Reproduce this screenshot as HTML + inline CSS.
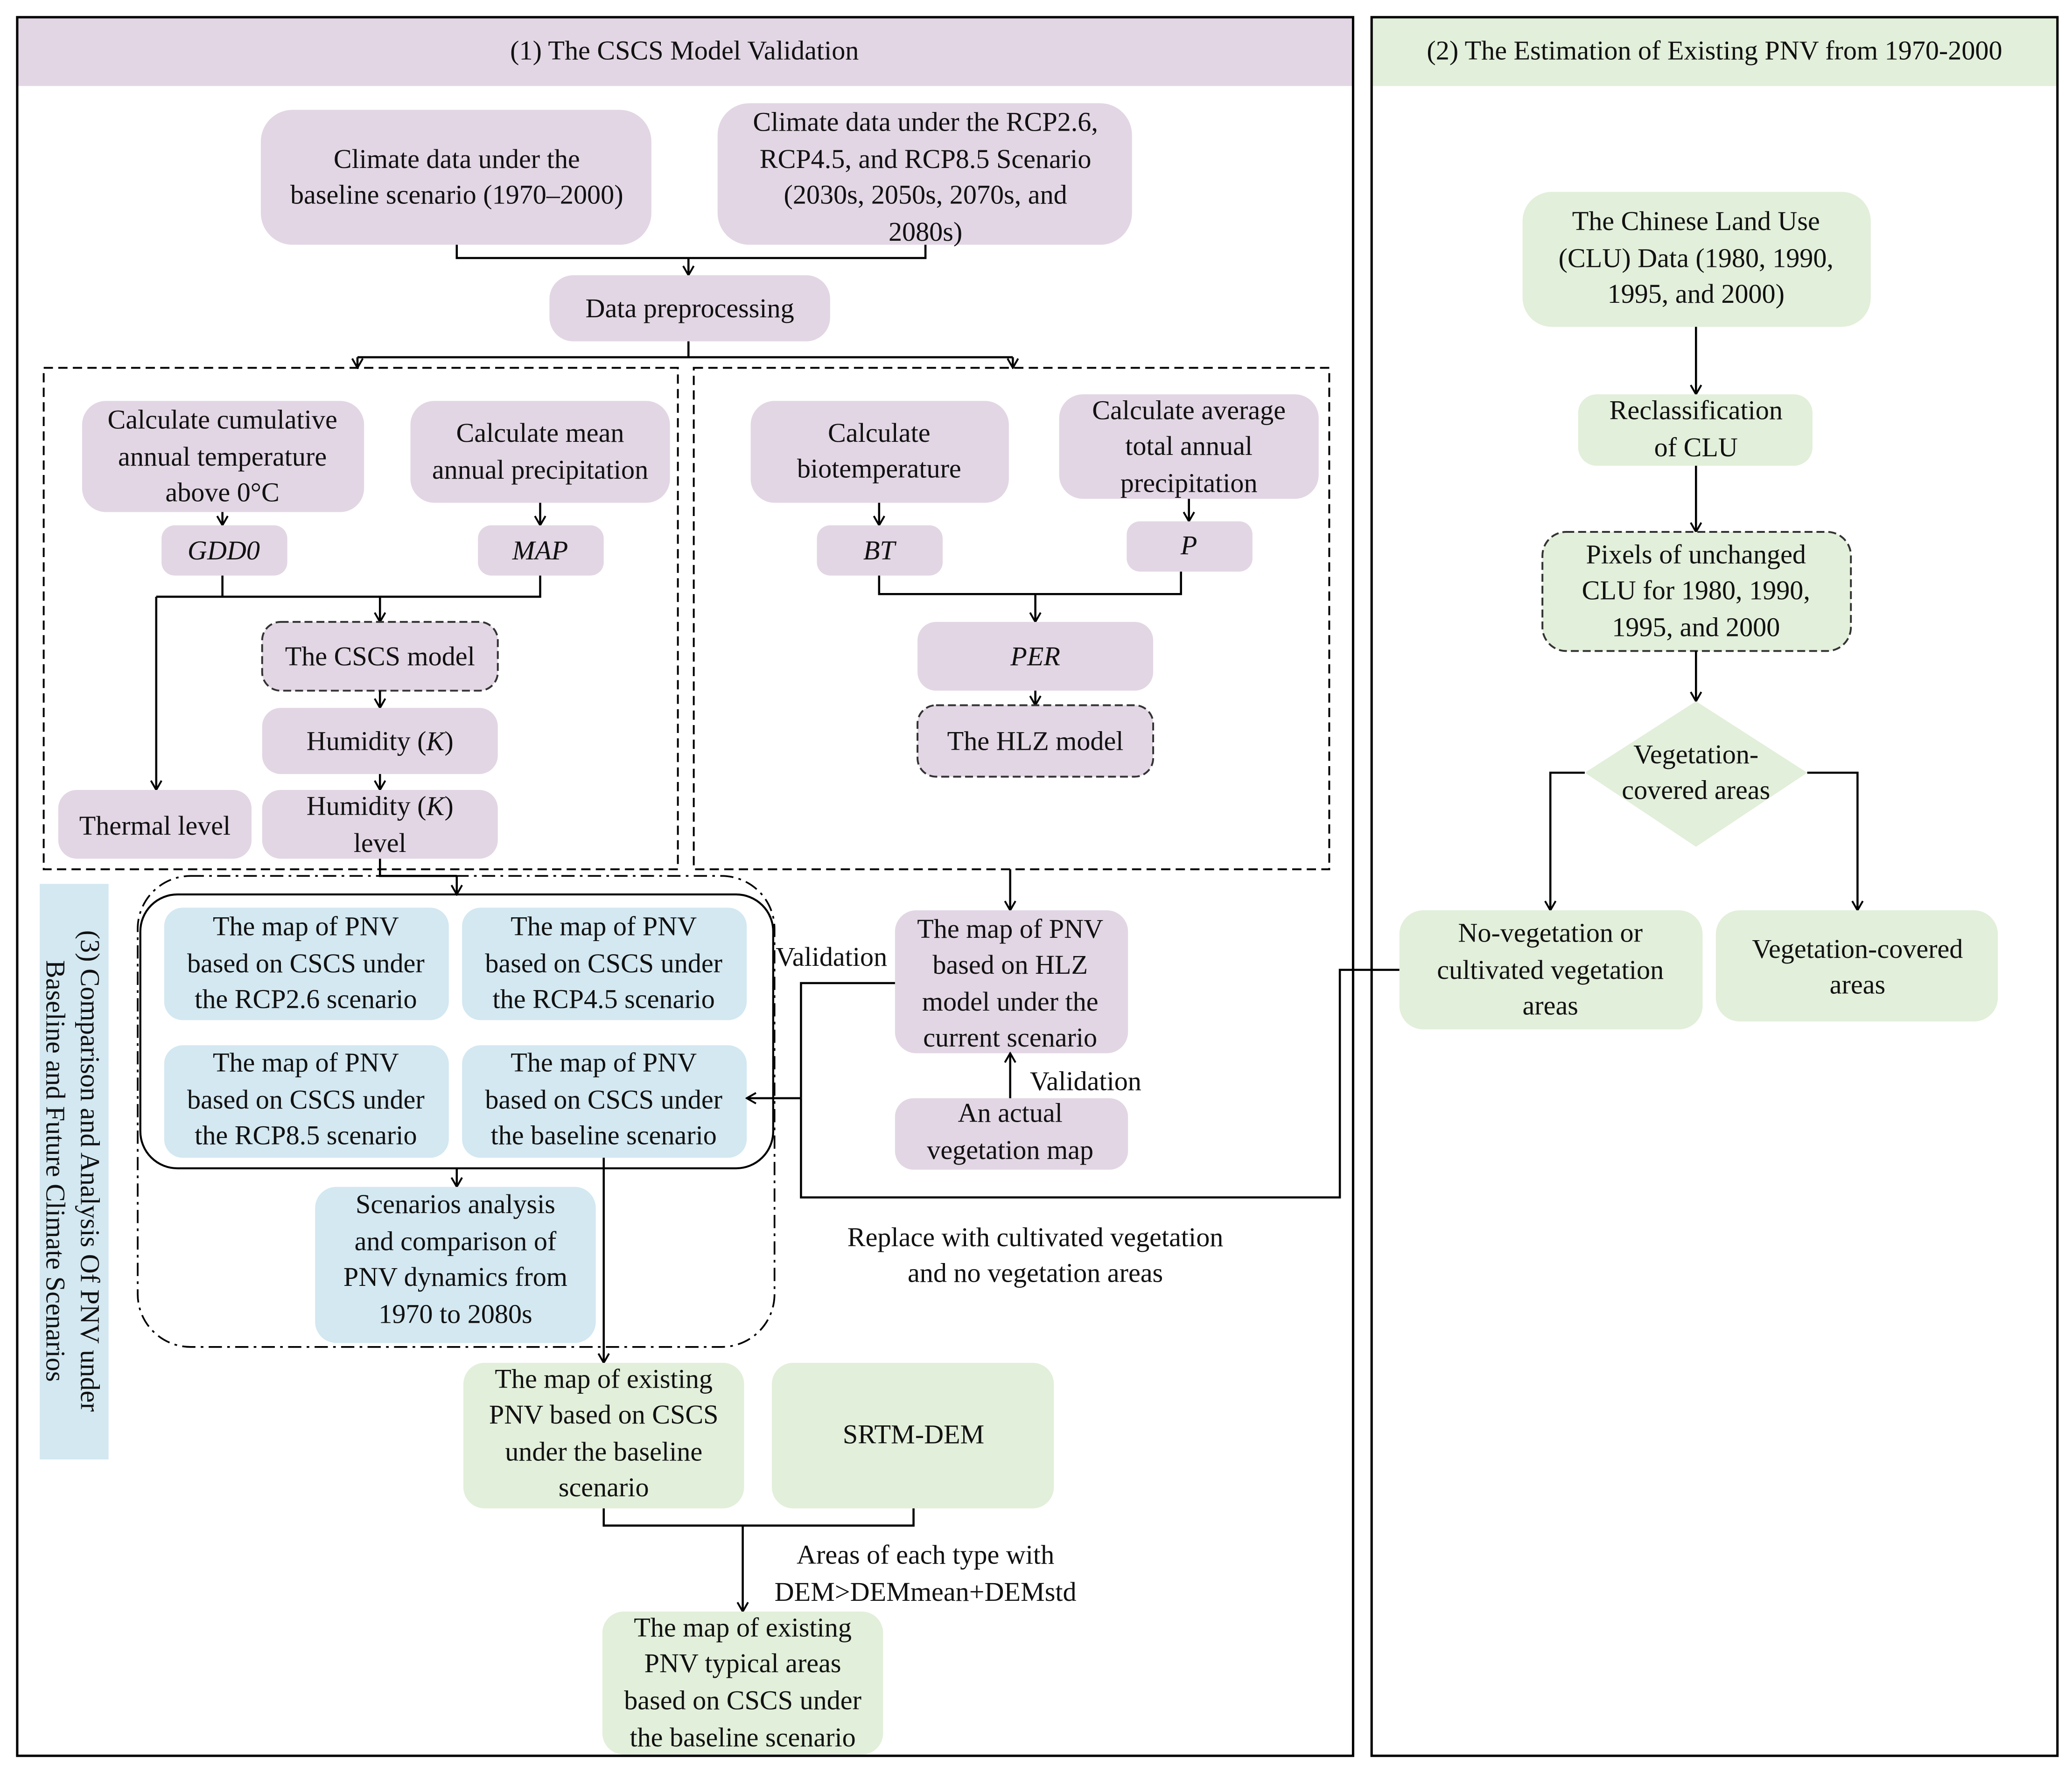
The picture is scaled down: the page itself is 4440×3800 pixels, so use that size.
<!DOCTYPE html>
<html><head><meta charset="utf-8"><style>
html,body{margin:0;padding:0;background:#fff;}
svg{display:block}
text{font-family:"Liberation Serif",serif;font-size:20.5px;fill:#111;text-anchor:middle;dominant-baseline:central;}
.p{fill:#e2d6e4}.g{fill:#e2efda}.b{fill:#d3e8f1}
.ln{stroke:#000;stroke-width:1.6;fill:none}
</style></head><body>
<svg width="4440" height="3800" viewBox="0 0 1565 1340" preserveAspectRatio="none" xmlns="http://www.w3.org/2000/svg">
<defs><marker id="a" markerWidth="10" markerHeight="10" refX="9" refY="5" orient="auto" markerUnits="userSpaceOnUse" viewBox="0 0 10 10"><path d="M2,1 L9,5 L2,9" fill="none" stroke="#000" stroke-width="1.4"/></marker>
<marker id="r" markerWidth="10" markerHeight="10" refX="9" refY="5" orient="auto" markerUnits="userSpaceOnUse" viewBox="0 0 10 10"><path d="M2,1 L9,5 L2,9" fill="none" stroke="#000" stroke-width="1.4"/></marker></defs>
<rect width="1565" height="1340" fill="#fff"/>
<rect x="13" y="13" width="1009" height="52" class="p"/>
<rect x="13" y="13" width="1009" height="1314" fill="none" stroke="#000" stroke-width="1.8"/>
<text x="517" y="38">(1) The CSCS Model Validation</text>
<rect x="1036" y="13" width="518" height="52" class="g"/>
<rect x="1036" y="13" width="518" height="1314" fill="none" stroke="#000" stroke-width="1.8"/>
<text x="1295" y="38">(2) The Estimation of Existing PNV from 1970-2000</text>

<rect x="197" y="83" width="295" height="102" rx="24" class="p"/>
<text x="345" y="120">Climate data under the</text><text x="345" y="147">baseline scenario (1970–2000)</text>
<rect x="542" y="78" width="313" height="107" rx="24" class="p"/>
<text x="699" y="92">Climate data under the RCP2.6,</text><text x="699" y="120">RCP4.5, and RCP8.5 Scenario</text><text x="699" y="147">(2030s, 2050s, 2070s, and</text><text x="699" y="175">2080s)</text>
<path class="ln" d="M345,185V195H699V185"/>
<path class="ln" d="M520,195V208" marker-end="url(#a)"/>
<rect x="415" y="208" width="212" height="50" rx="18" class="p"/>
<text x="521" y="233">Data preprocessing</text>
<path class="ln" d="M520,258V270M270,270H765"/>
<path class="ln" d="M270,270V278" marker-end="url(#a)"/><path class="ln" d="M765,270V278" marker-end="url(#a)"/>
<rect x="33" y="278" width="479" height="379" fill="none" stroke="#000" stroke-width="1.4" stroke-dasharray="7,4"/>
<rect x="524" y="278" width="480" height="379" fill="none" stroke="#000" stroke-width="1.4" stroke-dasharray="7,4"/>

<rect x="62" y="303" width="213" height="84" rx="18" class="p"/>
<text x="168" y="317">Calculate cumulative</text><text x="168" y="345">annual temperature</text><text x="168" y="372">above 0°C</text>
<rect x="310" y="303" width="196" height="77" rx="18" class="p"/>
<text x="408" y="327">Calculate mean</text><text x="408" y="355">annual precipitation</text>
<path class="ln" d="M168,387V397" marker-end="url(#a)"/><path class="ln" d="M408,380V397" marker-end="url(#a)"/>
<rect x="122" y="397" width="95" height="38" rx="10" class="p"/><text x="169" y="416" font-style="italic">GDD0</text>
<rect x="361" y="397" width="95" height="38" rx="10" class="p"/><text x="408" y="416" font-style="italic">MAP</text>
<path class="ln" d="M168,435V451M408,435V451H118"/>
<path class="ln" d="M118,451V597" marker-end="url(#a)"/>
<path class="ln" d="M287,451V470" marker-end="url(#a)"/>
<rect x="198" y="470" width="178" height="52" rx="14" class="p" stroke="#333" stroke-width="1.4" stroke-dasharray="6,3"/>
<text x="287" y="496">The CSCS model</text>
<path class="ln" d="M287,522V535" marker-end="url(#a)"/>
<rect x="198" y="535" width="178" height="50" rx="14" class="p"/>
<text x="287" y="560">Humidity (<tspan font-style="italic">K</tspan>)</text>
<path class="ln" d="M287,585V597" marker-end="url(#a)"/>
<rect x="198" y="597" width="178" height="52" rx="14" class="p"/>
<text x="287" y="609">Humidity (<tspan font-style="italic">K</tspan>)</text><text x="287" y="637">level</text>
<rect x="44" y="597" width="146" height="52" rx="14" class="p"/>
<text x="117" y="624">Thermal level</text>

<rect x="567" y="303" width="195" height="77" rx="18" class="p"/>
<text x="664" y="327">Calculate</text><text x="664" y="354">biotemperature</text>
<rect x="800" y="298" width="196" height="79" rx="18" class="p"/>
<text x="898" y="310">Calculate average</text><text x="898" y="337">total annual</text><text x="898" y="365">precipitation</text>
<path class="ln" d="M664,380V397" marker-end="url(#a)"/><path class="ln" d="M898,377V394" marker-end="url(#a)"/>
<rect x="617" y="397" width="95" height="38" rx="10" class="p"/><text x="664" y="416" font-style="italic">BT</text>
<rect x="851" y="394" width="95" height="38" rx="10" class="p"/><text x="898" y="412" font-style="italic">P</text>
<path class="ln" d="M664,435V449H892V432"/>
<path class="ln" d="M782,449V470" marker-end="url(#a)"/>
<rect x="693" y="470" width="178" height="52" rx="14" class="p"/><text x="782" y="496" font-style="italic">PER</text>
<path class="ln" d="M782,522V533" marker-end="url(#a)"/>
<rect x="693" y="533" width="178" height="54" rx="14" class="p" stroke="#333" stroke-width="1.4" stroke-dasharray="6,3"/>
<text x="782" y="560">The HLZ model</text>

<path class="ln" d="M287,649V662H345"/><path class="ln" d="M345,662V676" marker-end="url(#a)"/>
<rect x="104" y="662" width="481" height="356" rx="40" fill="none" stroke="#000" stroke-width="1.3" stroke-dasharray="10,4,2,4"/>
<rect x="106" y="676" width="478" height="207" rx="28" fill="none" stroke="#000" stroke-width="1.5"/>
<rect x="124" y="686" width="215" height="85" rx="14" class="b"/>
<text x="231" y="700">The map of PNV</text><text x="231" y="728">based on CSCS under</text><text x="231" y="755">the RCP2.6 scenario</text>
<rect x="349" y="686" width="215" height="85" rx="14" class="b"/>
<text x="456" y="700">The map of PNV</text><text x="456" y="728">based on CSCS under</text><text x="456" y="755">the RCP4.5 scenario</text>
<rect x="124" y="790" width="215" height="85" rx="14" class="b"/>
<text x="231" y="803">The map of PNV</text><text x="231" y="831">based on CSCS under</text><text x="231" y="858">the RCP8.5 scenario</text>
<rect x="349" y="790" width="215" height="85" rx="14" class="b"/>
<text x="456" y="803">The map of PNV</text><text x="456" y="831">based on CSCS under</text><text x="456" y="858">the baseline scenario</text>
<path class="ln" d="M345,883V897" marker-end="url(#a)"/>
<rect x="238" y="897" width="212" height="118" rx="16" class="b"/>
<text x="344" y="910">Scenarios analysis</text><text x="344" y="938">and comparison of</text><text x="344" y="965">PNV dynamics from</text><text x="344" y="993">1970 to 2080s</text>
<path class="ln" d="M456,875V1030" marker-end="url(#a)"/>
<rect x="30" y="668" width="52" height="435" class="b"/>
<text transform="translate(68,885) rotate(90)">(3)  Comparison and Analysis Of PNV under</text>
<text transform="translate(42,885) rotate(90)">Baseline and Future Climate Scenarios</text>

<path class="ln" d="M763,657V688" marker-end="url(#a)"/>
<rect x="676" y="688" width="176" height="108" rx="16" class="p"/>
<text x="763" y="702">The map of PNV</text><text x="763" y="729">based on HLZ</text><text x="763" y="757">model under the</text><text x="763" y="784">current scenario</text>
<text x="628" y="723">Validation</text>
<path class="ln" d="M676,743H605V830"/>
<path class="ln" d="M605,830H564" marker-end="url(#a)"/>
<path class="ln" d="M605,830V905H1012V733H1057"/>
<rect x="676" y="830" width="176" height="54" rx="14" class="p"/>
<text x="763" y="841">An actual</text><text x="763" y="869">vegetation map</text>
<path class="ln" d="M763,830V796" marker-end="url(#a)"/>
<text x="820" y="817">Validation</text>
<text x="782" y="935">Replace with cultivated vegetation</text><text x="782" y="962">and no vegetation areas</text>

<rect x="350" y="1030" width="212" height="110" rx="16" class="g"/>
<text x="456" y="1042">The map of existing</text><text x="456" y="1069">PNV based on CSCS</text><text x="456" y="1097">under the baseline</text><text x="456" y="1124">scenario</text>
<rect x="583" y="1030" width="213" height="110" rx="16" class="g"/>
<text x="690" y="1084">SRTM-DEM</text>
<path class="ln" d="M456,1140V1153H690V1140"/>
<path class="ln" d="M561,1153V1218" marker-end="url(#a)"/>
<text x="699" y="1175">Areas of each type with</text><text x="699" y="1203">DEM&gt;DEMmean+DEMstd</text>
<rect x="455" y="1218" width="212" height="108" rx="16" class="g"/>
<text x="561" y="1230">The map of existing</text><text x="561" y="1257">PNV typical areas</text><text x="561" y="1285">based on CSCS under</text><text x="561" y="1313">the baseline scenario</text>

<rect x="1150" y="145" width="263" height="102" rx="22" class="g"/>
<text x="1281" y="167">The Chinese Land Use</text><text x="1281" y="195">(CLU) Data (1980, 1990,</text><text x="1281" y="222">1995, and 2000)</text>
<path class="ln" d="M1281,247V298" marker-end="url(#a)"/>
<rect x="1192" y="298" width="177" height="54" rx="14" class="g"/>
<text x="1281" y="310">Reclassification</text><text x="1281" y="338">of CLU</text>
<path class="ln" d="M1281,352V402" marker-end="url(#a)"/>
<rect x="1165" y="402" width="233" height="90" rx="18" class="g" stroke="#333" stroke-width="1.4" stroke-dasharray="6,3"/>
<text x="1281" y="419">Pixels of unchanged</text><text x="1281" y="446">CLU for 1980, 1990,</text><text x="1281" y="474">1995, and 2000</text>
<path class="ln" d="M1281,492V530" marker-end="url(#a)"/>
<path d="M1281,530L1365,584L1281,640L1197,584Z" class="g"/>
<text x="1281" y="570">Vegetation-</text><text x="1281" y="597">covered areas</text>
<path class="ln" d="M1197,584H1171V688" marker-end="url(#a)"/>
<path class="ln" d="M1365,584H1403V688" marker-end="url(#a)"/>
<rect x="1057" y="688" width="229" height="90" rx="18" class="g"/>
<text x="1171" y="705">No-vegetation or</text><text x="1171" y="733">cultivated vegetation</text><text x="1171" y="760">areas</text>
<rect x="1296" y="688" width="213" height="84" rx="18" class="g"/>
<text x="1403" y="717">Vegetation-covered</text><text x="1403" y="744">areas</text>
</svg>
</body></html>
